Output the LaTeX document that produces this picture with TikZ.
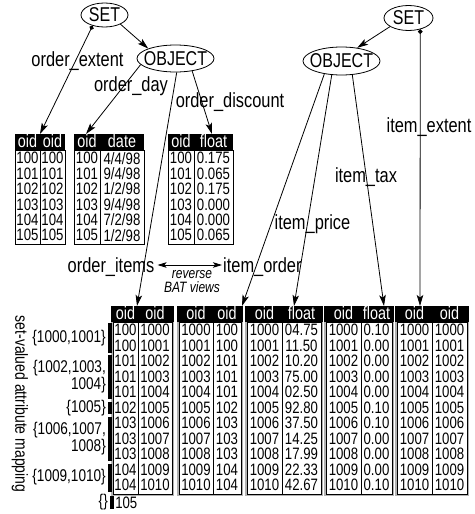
\documentclass[tikz,border=0pt]{standalone}
\usepackage{fontspec}
\setmainfont[FakeStretch=0.8]{Liberation Sans}
\usetikzlibrary{shapes.geometric,arrows.meta}
\newcommand\mytoptable[6]{%
  \fill (#2,134) rectangle (#4,150);
  \draw[tline] (#2,150) rectangle (#4,244.4);
  \draw[tline] (#3,150) -- (#3,244.4);
  \node[hdr] (#1h1) at ({(#2+#3)/2},141.5) {oid};
  \node[hdr] (#1h2) at ({(#3+#4)/2},141.5) {#5};
  \foreach \a/\b [count=\i] in {#6} {
    \node[dat] (#1a\i) at ({(#2+#3)/2},{150.5+15.4*(\i-0.5)}) {\a};
    \node[dat] (#1b\i) at ({(#3+#4)/2},{150.5+15.4*(\i-0.5)}) {\b};
  }
}
\newcommand\mybottable[7]{%
  \draw[gray!60, line width=1.4pt] (#2-1,322) rectangle (#4+1,495.5);
  \draw[tline] (#2,322) rectangle (#4,494.5);
  \draw[tline] (#3,322) -- (#3,494.5);
  \fill (#2-1.7,306) rectangle (#4+1.7,322.3);
  \node[hdr] (#1h1) at ({(#2+#3)/2},313.5) {#5};
  \node[hdr] (#1h2) at ({(#3+#4)/2},313.5) {#6};
  \foreach \a/\b [count=\i] in {#7} {
    \node[dat] (#1a\i) at ({(#2+#3)/2},{322.5+15.5*(\i-0.5)}) {\a};
    \node[dat] (#1b\i) at ({(#3+#4)/2},{322.5+15.5*(\i-0.5)}) {\b};
  }
}
\begin{document}
\begin{tikzpicture}[x=1pt,y=-1pt,
  lbl/.style={font=\fontsize{20.5}{21}\selectfont, inner sep=0pt, text depth=0pt},
  elltxt/.style={font=\fontsize{20}{20}\selectfont, inner sep=0pt},
  ell/.style={draw, ellipse, line width=0.8pt, inner sep=0pt},
  conn/.style={line width=0.8pt, -{Stealth[length=11pt,width=6.5pt,inset=2.5pt]}},
  dotconn/.style={line width=0.8pt, {Circle[length=4.5pt]}-{Stealth[length=11pt,width=6.5pt,inset=2.5pt]}},
  dblconn/.style={line width=0.8pt, {Stealth[length=9pt,width=5.5pt,inset=2pt]}-{Stealth[length=9pt,width=5.5pt,inset=2pt]}},
  dat/.style={font=\fontsize{16.5}{16.5}\selectfont, inner sep=0pt},
  hdr/.style={font=\fontsize{18}{18}\selectfont, text=white, inner sep=0pt},
  tline/.style={line width=0.6pt},
  setl/.style={font=\fontsize{17}{14.5}\selectfont, inner sep=0pt, align=right, anchor=east},
  bar/.style={fill=black},
]
\useasboundingbox (0,0) rectangle (474,514);

% ellipses
\node[ell, minimum width=47pt, minimum height=24pt] (set1) at (104.5,15) {};
\node[elltxt] (set1t) at (set1) {SET};
\node[ell, minimum width=77pt, minimum height=27pt] (obj1) at (175.5,58.5) {};
\node[elltxt] (obj1t) at (obj1) {OBJECT};
\node[ell, minimum width=49pt, minimum height=25pt] (set2) at (408.5,18) {};
\node[elltxt] (set2t) at (set2) {SET};
\node[ell, minimum width=77pt, minimum height=28pt] (obj2) at (341.5,61) {};
\node[elltxt] (obj2t) at (obj2) {OBJECT};

% top tables
\mytoptable{T1}{15}{40}{65}{oid}{100/100,101/101,102/102,103/103,104/104,105/105}
\mytoptable{T2}{74}{100}{144}{date}{100/{4/4/98},101/{9/4/98},102/{1/2/98},103/{9/4/98},104/{7/2/98},105/{1/2/98}}
\mytoptable{T3}{168}{194}{233}{float}{100/0.175,101/0.065,102/0.175,103/0.000,104/0.000,105/0.065}

% bottom tables
\mybottable{A}{113}{138}{172}{oid}{oid}{100/1000,100/1001,101/1002,101/1003,101/1004,102/1005,103/1006,103/1007,103/1008,104/1009,104/1010}
\mybottable{B}{179}{213}{241}{oid}{oid}{1000/100,1001/100,1002/101,1003/101,1004/101,1005/102,1006/103,1007/103,1008/103,1009/104,1010/104}
\mybottable{C}{247}{282}{321}{oid}{float}{1000/04.75,1001/11.50,1002/10.20,1003/75.00,1004/02.50,1005/92.80,1006/37.50,1007/14.25,1008/17.99,1009/22.33,1010/42.67}
\mybottable{D}{326}{361}{392}{oid}{float}{1000/0.10,1001/0.00,1002/0.00,1003/0.00,1004/0.00,1005/0.10,1006/0.10,1007/0.00,1008/0.00,1009/0.00,1010/0.10}
\mybottable{E}{397}{432}{467}{oid}{oid}{1000/1000,1001/1001,1002/1002,1003/1003,1004/1004,1005/1005,1006/1006,1007/1007,1008/1008,1009/1009,1010/1010}

% arrow end points on the tables
\coordinate (t1) at (40,134);
\coordinate (t2) at (86,134);
\coordinate (t3) at (212,134);
\coordinate (t4) at (137,306);
\coordinate (t7) at (420,306);
\coordinate (t8) at (242,306);
\coordinate (t9) at (294,306);
\coordinate (t10) at (384,306);

% connectors
\draw[conn] (set1.330) -- (obj1.160);
\draw[conn] (set2.205) -- (obj2.40);
\draw[dotconn] (set1.222) -- (t1);
\draw[conn] (obj1.190) -- (t2);
\draw[conn] (obj1.323) -- (t3);
\draw[conn] (obj1.275) -- (t4);
\draw[dotconn] (set2.316) -- (t7);
\draw[conn] (obj2.217) -- (t8);
\draw[conn] (obj2.235) -- (t9);
\draw[conn] (obj2.308) -- (t10);

% labels
\node[lbl] (lext) at (77.5,59) {order\_extent};
\node[lbl] (lday) at (131,84) {order\_day};
\node[lbl] (ldis) at (230,100) {order\_discount};
\node[lbl] (lite) at (111,265) {order\_items};
\node[lbl, anchor=west] (lord) at (223,265) {item\_order};
\node[lbl] (lpri) at (312.5,222) {item\_price};
\node[lbl] (ltax) at (366,175) {item\_tax};
\node[lbl] (lxt) at (429,125) {item\_extent};
\draw[dblconn] ([xshift=3pt]lite.east) -- ([xshift=-1pt]lord.west);
\node[font=\itshape\fontsize{15}{14}\selectfont, align=center, inner sep=0pt] (rev) at (192,281.5) {reverse\\BAT views};

% set-valued mapping
\fill[bar] (108,323) rectangle (112,352.5);
\fill[bar] (108,355) rectangle (112,399);
\fill[bar] (108,401.5) rectangle (112,414);
\fill[bar] (108,417) rectangle (112,460.5);
\fill[bar] (108,463.5) rectangle (112,492);
\fill[bar] (110,496) rectangle (113.5,509);
\node[setl] (s1) at (106,338) {\{1000,1001\}};
\node[setl] (s2) at (106,376.75) {\{1002,1003,\\1004\}};
\node[setl] (s3) at (106,407.75) {\{1005\}};
\node[setl] (s4) at (106,438.75) {\{1006,1007,\\1008\}};
\node[setl] (s5) at (106,477.5) {\{1009,1010\}};
\node[setl] (s6) at (108,502.5) {\{\}};
\node[dat, anchor=east] (n105) at (137.5,502.5) {105};
\node[font=\fontsize{17.5}{17.5}\selectfont, rotate=-90, inner sep=0pt] (rot) at (20,404) {set-valued attribute mapping};
\end{tikzpicture}
\end{document}
